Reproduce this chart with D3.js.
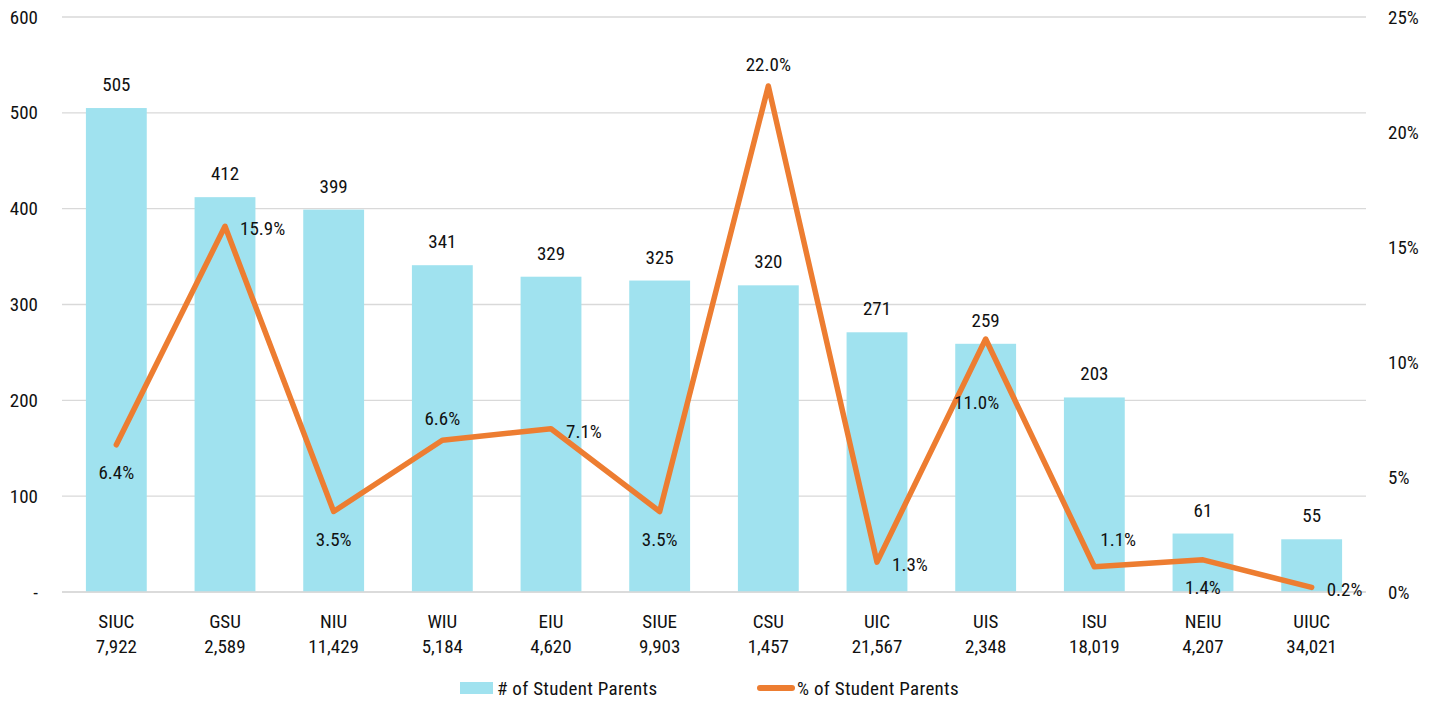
<!DOCTYPE html>
<html><head><meta charset="utf-8">
<script src="https://cdn.jsdelivr.net/npm/d3@7"></script>
<style>
body{margin:0;background:#fff;}
text{font-family:"Roboto Condensed","Roboto",sans-serif;fill:#111;}
</style></head>
<body><svg id="c" width="1441" height="702"></svg>
<script>
const schools = ["SIUC","GSU","NIU","WIU","EIU","SIUE","CSU","UIC","UIS","ISU","NEIU","UIUC"];
const enrollment = ["7,922","2,589","11,429","5,184","4,620","9,903","1,457","21,567","2,348","18,019","4,207","34,021"];
const parents = [505,412,399,341,329,325,320,271,259,203,61,55];
const pctParents = [6.4,15.9,3.5,6.6,7.1,3.5,22.0,1.3,11.0,1.1,1.4,0.2];
const leftTicks = [0,100,200,300,400,500,600];
const rightTicks = [0,5,10,15,20,25];
// label placement for the % labels (style only)
const pctLabelPlace = ["below","right","below","above","right","below","above","right","low","upright","below","right"];

const svg = d3.select("#c");
const m = {l:62, r:75, t:17, b:110};
const W = 1441, H = 702;
const x = d3.scaleBand().domain(schools).range([m.l, W-m.r]).paddingInner(0.44).paddingOuter(0.22);
const y = d3.scaleLinear().domain([0,600]).range([H-m.b, m.t]);
const y2 = d3.scaleLinear().domain([0,25]).range([H-m.b, m.t]);
const FS = 19;

// grid
svg.append("g").selectAll("line").data(leftTicks).join("line")
  .attr("x1", m.l).attr("x2", W-m.r).attr("y1", d=>y(d)).attr("y2", d=>y(d))
  .attr("stroke","#d9d9d9").attr("stroke-width",1.3);

// left axis
const la = svg.append("g").attr("transform",`translate(${m.l},0)`)
  .call(d3.axisLeft(y).tickValues(leftTicks).tickSize(0).tickPadding(24).tickFormat(d=>d===0?"-":d));
la.select(".domain").remove();
la.selectAll("text").style("font-size",FS+"px").attr("fill","#111");

// right axis
const ra = svg.append("g").attr("transform",`translate(${W-m.r},0)`)
  .call(d3.axisRight(y2).tickValues(rightTicks).tickSize(0).tickPadding(22).tickFormat(d=>d+"%"));
ra.select(".domain").remove();
ra.selectAll("text").style("font-size",FS+"px").attr("fill","#111");

// bars
svg.append("g").selectAll("rect").data(parents).join("rect")
  .attr("x",(d,i)=>x(schools[i])).attr("width",x.bandwidth())
  .attr("y",d=>y(d)).attr("height",d=>y(0)-y(d)).attr("fill","#A0E2EF");

// baseline
svg.append("line").attr("x1",m.l).attr("x2",W-m.r).attr("y1",y(0)).attr("y2",y(0))
  .attr("stroke","#d9d9d9").attr("stroke-width",1.5);

// bar labels
svg.append("g").selectAll("text").data(parents).join("text")
  .attr("x",(d,i)=>x(schools[i])+x.bandwidth()/2).attr("y",d=>y(d)-17)
  .attr("text-anchor","middle").style("font-size",FS+"px").text(d=>d);

// x labels
const xl = svg.append("g").selectAll("text").data(schools).join("text")
  .attr("x",d=>x(d)+x.bandwidth()/2).attr("text-anchor","middle").style("font-size",FS+"px");
xl.append("tspan").attr("x",d=>x(d)+x.bandwidth()/2).attr("y",y(0)+36).text(d=>d);
xl.append("tspan").attr("x",d=>x(d)+x.bandwidth()/2).attr("y",y(0)+61).text((d,i)=>enrollment[i]);

// line
const cx = i => x(schools[i])+x.bandwidth()/2;
const line = d3.line().x((d,i)=>cx(i)).y(d=>y2(d));
svg.append("path").datum(pctParents).attr("d",line).attr("fill","none")
  .attr("stroke","#ED7D31").attr("stroke-width",5.5).attr("stroke-linejoin","round").attr("stroke-linecap","round");

// pct labels
const offs = {below:[0,34,"middle"], above:[0,-15,"middle"], right:[15,9,"start"], low:[-9,70,"middle"], upright:[6,-21,"start"]};
svg.append("g").selectAll("text").data(pctParents).join("text")
  .attr("x",(d,i)=>cx(i)+offs[pctLabelPlace[i]][0])
  .attr("y",(d,i)=>y2(d)+offs[pctLabelPlace[i]][1])
  .attr("text-anchor",(d,i)=>offs[pctLabelPlace[i]][2])
  .style("font-size",FS+"px").text(d=>d.toFixed(1)+"%");

// legend
const lg = svg.append("g");
lg.append("rect").attr("x",460).attr("y",682).attr("width",33).attr("height",12).attr("fill","#A0E2EF");
lg.append("text").attr("x",497).attr("y",695).style("font-size",FS+"px").style("letter-spacing","0.3px").text("# of Student Parents");
lg.append("line").attr("x1",760).attr("x2",792).attr("y1",688).attr("y2",688)
  .attr("stroke","#ED7D31").attr("stroke-width",6).attr("stroke-linecap","round");
lg.append("text").attr("x",797).attr("y",695).style("font-size",FS+"px").style("letter-spacing","0.3px").text("% of Student Parents");
</script></body></html>
